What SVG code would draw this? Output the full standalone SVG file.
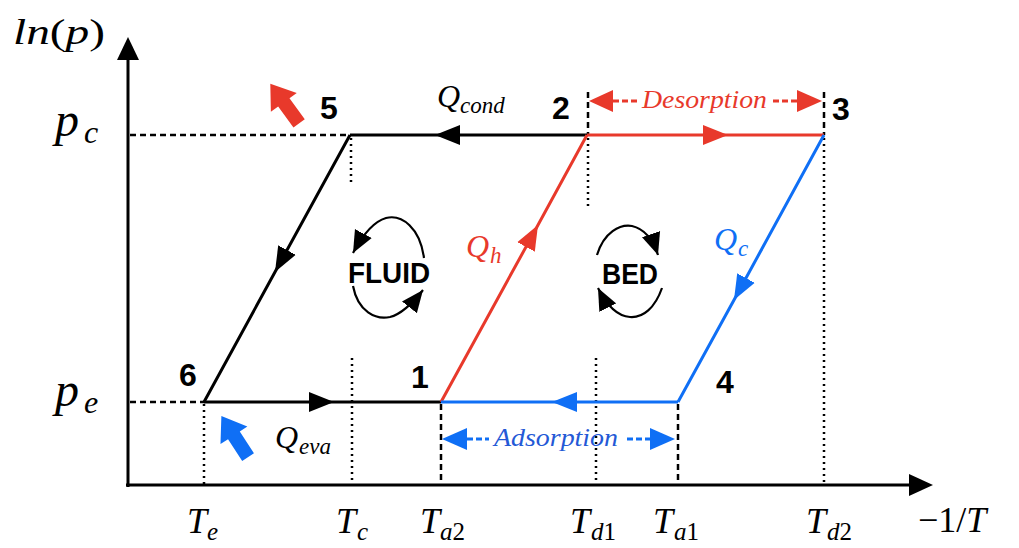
<svg xmlns="http://www.w3.org/2000/svg" width="1019" height="548" viewBox="0 0 1019 548">
<style>
.ax{stroke:#000;stroke-width:3;fill:none}
.blk{stroke:#000;stroke-width:3;fill:none}
.red{stroke:#e8392b;stroke-width:3;fill:none}
.blu{stroke:#0f6ff5;stroke-width:3;fill:none}
.dash{stroke:#000;stroke-width:2.5;stroke-dasharray:6 4;fill:none}
.dot{stroke:#000;stroke-width:2.5;stroke-dasharray:2 4;fill:none}
.rdash{stroke:#e8392b;stroke-width:3;stroke-dasharray:6 3;fill:none}
.bdash{stroke:#0f6ff5;stroke-width:3;stroke-dasharray:6 3;fill:none}
.m{font-family:"Liberation Serif","Times New Roman",serif;font-style:italic;fill:#000}
.up{font-family:"Liberation Serif","Times New Roman",serif;font-style:normal}
.num{font-family:"Liberation Sans",Arial,sans-serif;font-weight:bold;font-size:32px;fill:#000}
.lbl{font-family:"Liberation Sans",Arial,sans-serif;font-weight:bold;font-size:29px;fill:#000}
.arc{stroke:#000;stroke-width:2.2;fill:none}
</style>
<defs>
<marker id="hb" viewBox="0 -11 26 22" refX="25" refY="0" markerWidth="26" markerHeight="22" markerUnits="userSpaceOnUse" orient="auto"><path d="M0,-10 L25,0 L0,10 z" fill="#000"/></marker>
<marker id="hr" viewBox="0 -11 26 22" refX="25" refY="0" markerWidth="26" markerHeight="22" markerUnits="userSpaceOnUse" orient="auto"><path d="M0,-10 L25,0 L0,10 z" fill="#e8392b"/></marker>
<marker id="hbl" viewBox="0 -11 26 22" refX="25" refY="0" markerWidth="26" markerHeight="22" markerUnits="userSpaceOnUse" orient="auto"><path d="M0,-10 L25,0 L0,10 z" fill="#0f6ff5"/></marker>
<marker id="hs" viewBox="0 -10 23 20" refX="22" refY="0" markerWidth="23" markerHeight="20" markerUnits="userSpaceOnUse" orient="auto"><path d="M0,-9.5 L22,0 L0,9.5 z" fill="#000"/></marker>
</defs>

<g id="axes">
<line class="ax" x1="128" y1="487" x2="128" y2="58"/>
<path d="M117,60 L128,37 L139,60 z" fill="#000"/>
<line class="ax" x1="126" y1="485" x2="911" y2="485"/>
<path d="M909,474 L933,485 L909,496 z" fill="#000"/>
</g>

<g id="guides">
<line class="dash" x1="130" y1="135" x2="350" y2="135"/>
<line class="dash" x1="130" y1="402" x2="204" y2="402"/>
<line class="dot" x1="204" y1="404" x2="204" y2="485"/>
<line class="dot" x1="351" y1="138" x2="351" y2="183"/>
<line class="dot" x1="352" y1="358" x2="352" y2="485"/>
<line class="dash" x1="441" y1="404" x2="441" y2="485"/>
<line class="dash" x1="588" y1="92" x2="588" y2="135"/>
<line class="dot" x1="588" y1="138" x2="588" y2="210"/>
<line class="dot" x1="596" y1="358" x2="596" y2="485"/>
<line class="dash" x1="678" y1="404" x2="678" y2="485"/>
<line class="dash" x1="824" y1="92" x2="824" y2="135"/>
<line class="dot" x1="824" y1="138" x2="824" y2="485"/>
</g>

<g id="connectors">
<path class="blk" d="M587,135 L435,135 L350,135" marker-mid="url(#hb)"/>
<path class="red" d="M587,135 L728,135 L824,135" marker-mid="url(#hr)"/>
<path class="blk" d="M350,135 L275,272 L204,402" marker-mid="url(#hb)"/>
<path class="blk" d="M204,402 L334,402 L441,402" marker-mid="url(#hb)"/>
<path class="red" d="M441,402 L538,225 L587,135" marker-mid="url(#hr)"/>
<path class="blu" d="M824,135 L734,300 L678,402" marker-mid="url(#hbl)"/>
<path class="blu" d="M678,402 L552,402 L441,402" marker-mid="url(#hbl)"/>
</g>

<g id="desorption">
<path d="M613,90 L589,101 L613,112 z" fill="#e8392b"/>
<line class="rdash" x1="613" y1="101" x2="637" y2="101"/>
<text class="m" x="642" y="108" font-size="26" style="fill:#e8392b" textLength="125" lengthAdjust="spacingAndGlyphs">Desorption</text>
<line class="rdash" x1="773" y1="101" x2="797" y2="101"/>
<path d="M797,90 L822,101 L797,112 z" fill="#e8392b"/>
</g>

<g id="adsorption">
<path d="M467,428 L442,439 L467,450 z" fill="#0f6ff5"/>
<line class="bdash" x1="467" y1="439" x2="489" y2="439"/>
<text class="m" x="494" y="446" font-size="26" style="fill:#2459d6" textLength="124" lengthAdjust="spacingAndGlyphs">Adsorption</text>
<line class="bdash" x1="627" y1="439" x2="650" y2="439"/>
<path d="M650,428 L675,439 L650,450 z" fill="#0f6ff5"/>
</g>

<g id="fluid">
<path class="arc" d="M424,258 C420,228 402,214 386,218 C372,222 361,238 353,253" marker-end="url(#hs)"/>
<path class="arc" d="M353,286 C358,312 376,320 390,317 C402,314 412,304 423,290" marker-end="url(#hs)"/>
<text class="lbl" x="389" y="283" text-anchor="middle" textLength="82" lengthAdjust="spacingAndGlyphs">FLUID</text>
</g>

<g id="bed">
<path class="arc" d="M597,255 C604,232 620,224 632,226 C645,229 653,240 658,255" marker-end="url(#hs)"/>
<path class="arc" d="M662,288 C655,308 643,318 630,317 C616,316 606,304 598,288" marker-end="url(#hs)"/>
<text class="lbl" x="630" y="284" text-anchor="middle" textLength="56" lengthAdjust="spacingAndGlyphs">BED</text>
</g>

<g id="heat-arrows">
<path transform="translate(285,104) rotate(-36)" d="M-7,24 L-7,-2 L-16,-2 L0,-25 L16,-2 L7,-2 L7,24 z" fill="#e8392b"/>
<path transform="translate(235,437) rotate(-33)" d="M-7,24 L-7,-2 L-16,-2 L0,-25 L16,-2 L7,-2 L7,24 z" fill="#0f6ff5"/>
</g>

<g id="points">
<text class="num" x="320" y="119">5</text>
<text class="num" x="552" y="119">2</text>
<text class="num" x="832" y="120">3</text>
<text class="num" x="179" y="386">6</text>
<text class="num" x="411" y="388">1</text>
<text class="num" x="716" y="393">4</text>
</g>

<g id="labels">
<text class="m" x="13" y="44" font-size="36" textLength="92" lengthAdjust="spacingAndGlyphs">ln<tspan class="up">(</tspan>p<tspan class="up">)</tspan></text>
<text class="m" x="55" y="136" font-size="48">p</text>
<text class="m" x="84" y="143" font-size="32">c</text>
<text class="m" x="55" y="406" font-size="48">p</text>
<text class="m" x="84" y="413" font-size="32">e</text>

<text class="m" x="437" y="107" font-size="32">Q</text>
<text class="m" x="460" y="113" font-size="23">cond</text>
<text class="m" x="466" y="257" font-size="32" style="fill:#e8392b">Q</text>
<text class="m" x="490" y="263" font-size="23" style="fill:#e8392b">h</text>
<text class="m" x="714" y="250" font-size="32" style="fill:#0f6ff5">Q</text>
<text class="m" x="738" y="256" font-size="23" style="fill:#0f6ff5">c</text>
<text class="m" x="275" y="448" font-size="32">Q</text>
<text class="m" x="299" y="454" font-size="23">eva</text>

<text class="m" x="187" y="533" font-size="36">T</text>
<text class="m" x="207" y="540" font-size="25">e</text>
<text class="m" x="336" y="533" font-size="36">T</text>
<text class="m" x="357" y="540" font-size="25">c</text>
<text class="m" x="420" y="533" font-size="36">T</text>
<text class="m" x="440" y="540" font-size="25">a<tspan class="up">2</tspan></text>
<text class="m" x="570" y="533" font-size="36">T</text>
<text class="m" x="591" y="540" font-size="25">d<tspan class="up">1</tspan></text>
<text class="m" x="653" y="533" font-size="36">T</text>
<text class="m" x="674" y="540" font-size="25">a<tspan class="up">1</tspan></text>
<text class="m" x="806" y="533" font-size="36">T</text>
<text class="m" x="827" y="540" font-size="25">d<tspan class="up">2</tspan></text>
<text class="m" x="918" y="532" font-size="36"><tspan class="up">−1/</tspan>T</text>
</g>
</svg>
